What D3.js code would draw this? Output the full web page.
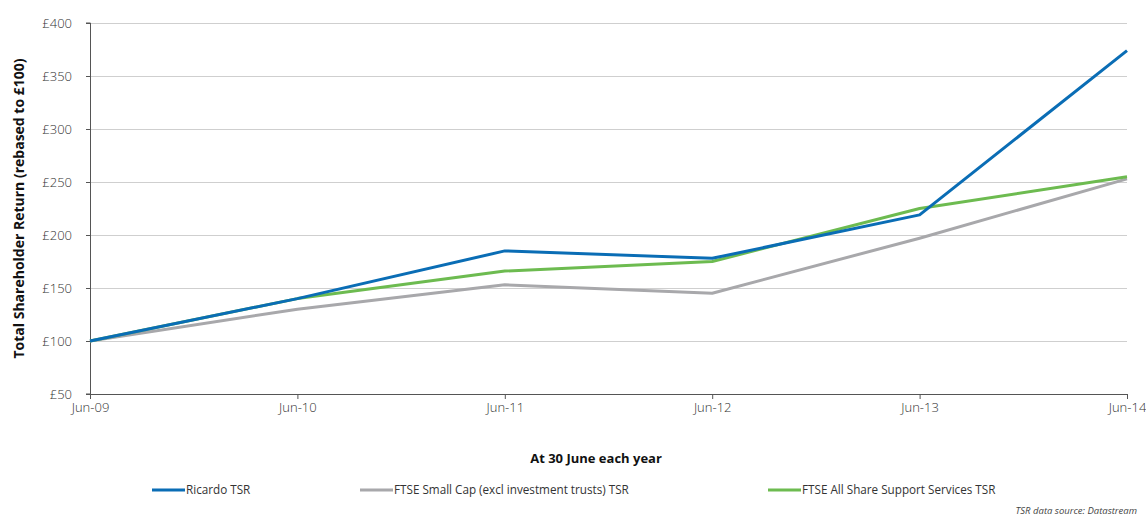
<!DOCTYPE html>
<html>
<head>
<meta charset="utf-8">
<script src="https://cdn.jsdelivr.net/npm/d3@7"></script>
<style>
  body { margin: 0; background: #fff; }
  text { font-family: "Open Sans", "Noto Sans", sans-serif; }
</style>
</head>
<body>
<div id="chart"></div>
<script>
var years = ["Jun-09", "Jun-10", "Jun-11", "Jun-12", "Jun-13", "Jun-14"];
var ricardo = [100, 140, 185, 178, 219, 374];
var smallCap = [100, 130, 153, 145, 197, 253];
var supportServices = [100, 140, 166, 175, 225, 255];
var yTicks = [50, 100, 150, 200, 250, 300, 350, 400];

var seriesList = [
  { name: "FTSE Small Cap (excl investment trusts) TSR", values: smallCap, color: "#a8a8ab" },
  { name: "FTSE All Share Support Services TSR", values: supportServices, color: "#6dbb50" },
  { name: "Ricardo TSR", values: ricardo, color: "#0a6db5" }
];
var legendOrder = ["Ricardo TSR", "FTSE Small Cap (excl investment trusts) TSR", "FTSE All Share Support Services TSR"];

var svgWidth = 1146;
var svgHeight = 518;
var margin = { top: 23, right: 19, bottom: 124, left: 90 };
var width = svgWidth - margin.left - margin.right;
var height = svgHeight - margin.top - margin.bottom;

var svg = d3.select("#chart")
  .append("svg")
  .attr("width", svgWidth)
  .attr("height", svgHeight);

var chartGroup = svg.append("g")
  .attr("transform", `translate(${margin.left}, ${margin.top})`);

var x = d3.scalePoint()
  .domain(years)
  .range([0, width]);

var y = d3.scaleLinear()
  .domain([50, 400])
  .range([height, 0]);

// gridlines
chartGroup.append("g")
  .selectAll("line")
  .data(yTicks.slice(1))
  .enter()
  .append("line")
  .attr("x1", 0)
  .attr("x2", width)
  .attr("y1", d => Math.round(y(d)) + 0.5)
  .attr("y2", d => Math.round(y(d)) + 0.5)
  .attr("stroke", "#cfcfcf")
  .attr("stroke-width", 1);

// y axis
var leftAxis = d3.axisLeft(y)
  .tickValues(yTicks)
  .tickSize(4)
  .tickPadding(14)
  .tickFormat(d => "£" + d);

var yAxisG = chartGroup.append("g").call(leftAxis);
yAxisG.select(".domain").attr("stroke", "#555").attr("d", `M-4,${height}H0.5V0H-4`);
yAxisG.selectAll(".tick line").attr("stroke", "#555");
yAxisG.selectAll(".tick text")
  .attr("font-size", "13px")
  .attr("font-weight", 300)
  .attr("fill", "#333")
  .attr("font-family", "'Open Sans', sans-serif");

// x axis
var bottomAxis = d3.axisBottom(x)
  .tickSize(5)
  .tickPadding(4);

var xAxisG = chartGroup.append("g")
  .attr("transform", `translate(0, ${height})`)
  .call(bottomAxis);
xAxisG.select(".domain").attr("stroke", "#555");
xAxisG.selectAll(".tick line").attr("stroke", "#555");
xAxisG.selectAll(".tick text")
  .attr("font-size", "13px")
  .attr("font-weight", 300)
  .attr("fill", "#333")
  .attr("font-family", "'Open Sans', sans-serif");

// lines
var line = d3.line()
  .x((d, i) => x(years[i]))
  .y(d => y(d));

chartGroup.append("g")
  .selectAll("path")
  .data(seriesList)
  .enter()
  .append("path")
  .attr("d", d => line(d.values))
  .attr("fill", "none")
  .attr("stroke", d => d.color)
  .attr("stroke-width", 3)
  .attr("stroke-linejoin", "round");

// axis titles
svg.append("text")
  .attr("transform", `translate(24, ${margin.top + height / 2}) rotate(-90)`)
  .attr("text-anchor", "middle")
  .attr("font-size", "14px")
  .attr("font-weight", "bold")
  .attr("fill", "#111")
  .text("Total Shareholder Return (rebased to £100)");

svg.append("text")
  .attr("x", 596)
  .attr("y", 463)
  .attr("text-anchor", "middle")
  .attr("font-size", "13px")
  .attr("font-weight", "bold")
  .attr("fill", "#111")
  .text("At 30 June each year");

// legend
var legendX = [152, 360, 768];
var legend = svg.append("g")
  .selectAll("g")
  .data(legendOrder)
  .enter()
  .append("g")
  .attr("transform", (d, i) => `translate(${legendX[i]}, 490)`);

legend.append("line")
  .attr("x1", 0)
  .attr("x2", 33)
  .attr("y1", 0)
  .attr("y2", 0)
  .attr("stroke", d => seriesList.find(s => s.name === d).color)
  .attr("stroke-width", 3);

legend.append("text")
  .attr("x", 34)
  .attr("y", 4)
  .attr("font-size", "11.7px")
  .attr("fill", "#333")
  .text(d => d);

svg.append("text")
  .attr("x", 1137)
  .attr("y", 514)
  .attr("text-anchor", "end")
  .attr("font-size", "9.5px")
  .attr("font-style", "italic")
  .attr("fill", "#444")
  .text("TSR data source: Datastream");
</script>
</body>
</html>
